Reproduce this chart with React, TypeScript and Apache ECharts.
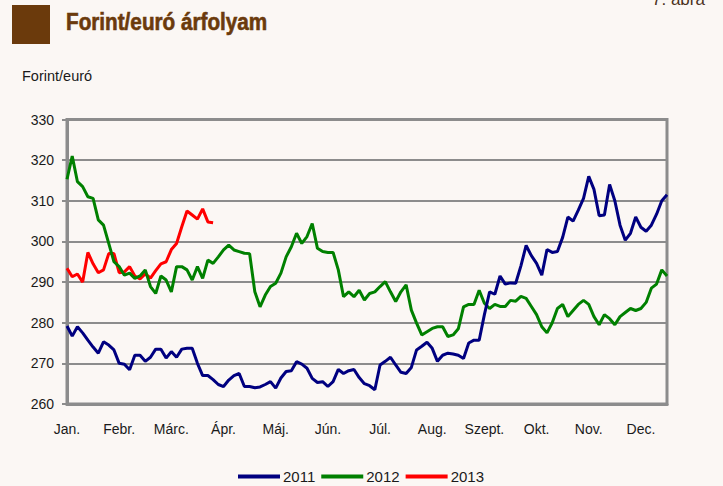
import React, { useEffect, useRef } from "react";
import * as echarts from "echarts";

const months = ["Jan.", "Febr.", "Márc.", "Ápr.", "Máj.", "Jún.", "Júl.", "Aug.", "Szept.", "Okt.", "Nov.", "Dec."];
const seriesNames = ["2011", "2012", "2013"];
const yTicks = { min: 260, max: 330, interval: 10 };

const rate2011 = [
  279.2, 276.7, 279, 277.5, 275.7, 274, 272.5, 275.3, 274.5, 273.3,
  270, 269.8, 268.4, 272, 272, 270.5, 271.5, 273.5, 273.5, 271.3,
  272.9, 271.5, 273.5, 273.7, 273.7, 270, 267, 267, 266, 264.8,
  264.3, 265.9, 267, 267.5, 264.3, 264.3, 264, 264.2, 264.8, 265.5,
  263.9, 266.4, 268, 268.2, 270.4, 269.8, 268.8, 266.3, 265.3, 265.5,
  264.3, 265.5, 268.5, 267.5, 268.2, 268.5, 266.5, 265, 264.5, 263.5,
  269.6, 270.5, 271.5, 269.6, 267.8, 267.5, 269, 273.3, 274.2, 275.2,
  273.7, 270.5, 272, 272.5, 272.3, 272, 271.2, 275, 275.7, 275.7,
  282, 287.6, 287, 291.5, 289.5, 289.8, 289.7, 294, 299, 296.5,
  294.6, 291.7, 298, 297.3, 297.5, 301, 306, 305, 307.7, 310.6,
  316, 312.8, 306.3, 306.5, 314, 310, 304, 300.3, 302, 306,
  303.5, 302.5, 304, 306.7, 310, 311.5,
];

const rate2012 = [
  315.3, 321, 314.7, 313.5, 311, 310.6, 305.3, 304, 299.5, 295,
  293.8, 291.7, 292.2, 290.9, 291.5, 293, 288.9, 287.2, 291.5, 290.5,
  287.6, 293.8, 293.8, 293, 290.5, 293.8, 290.9, 295.4, 294.6, 296.2,
  297.9, 299.1, 297.9, 297.5, 297.1, 297, 287.6, 283.9, 286.8, 288.9,
  289.7, 292.2, 296.2, 298.7, 302, 299.5, 301.2, 304.4, 298.3, 297.5,
  297.3, 297.3, 293, 286.4, 287.6, 286.4, 288, 285.6, 287.2, 287.6,
  288.9, 290.1, 287.6, 285.2, 287.6, 289.3, 283.1, 279.9, 277, 277.8,
  278.6, 279, 279, 276.6, 277, 278.5, 283.9, 284.5, 284.5, 288,
  284.8, 283.5, 284.5, 284, 284, 285.5, 285.3, 286.5, 286, 284,
  282, 279, 277.5, 280, 283.5, 284.5, 281.5, 283, 284.5, 285.5,
  284.5, 281.5, 279.5, 282, 281, 279.5, 281.5, 282.5, 283.5, 283,
  283.5, 285, 288.5, 289.5, 293, 291.5,
];

const rate2013 = [
  293.4, 291.3, 292, 290, 297.3, 294.5, 292.3, 293, 297, 297,
  292.3, 292.5, 293.8, 291.5, 290.8, 292, 291, 292.8, 294.5, 295,
  298, 299.5, 303.6, 307.5, 306.5, 305.5, 308, 304.8, 304.6,
];

// trading-day slots: 10 per month, axis spans Jan. to mid-Dec.
const dayIndex = rate2011.map((_, i) => String(i));

const colors = ["#000080", "#008000", "#ff0000"];
const BG = "#fbf7f4";

export default function App() {
  const ref = useRef<HTMLDivElement>(null);
  useEffect(() => {
    if (!ref.current) return;
    const chart = echarts.init(ref.current, null, { renderer: "svg" });
    const sets = [rate2011, rate2012, rate2013];
    chart.setOption({
      animation: false,
      backgroundColor: BG,
      textStyle: { fontFamily: "Liberation Sans, Arial, sans-serif" },
      graphic: [
        { type: "rect", shape: { x: 12, y: 5, width: 38, height: 39 }, style: { fill: "#6b3a0c" } },
        {
          type: "text", x: 66, y: 11, scaleX: 0.9,
          style: { text: "Forint/euró árfolyam", font: "bold 23px 'Liberation Sans Narrow', Arial", fill: "#6b3a0c", stroke: "#6b3a0c", lineWidth: 0.6 },
        },
        {
          type: "text", x: 652, y: -9,
          style: { text: "7. ábra", font: "17px 'Liberation Sans', Arial", fill: "#4a3020" },
        },
        {
          type: "text", x: 22, y: 68,
          style: { text: "Forint/euró", font: "14.5px 'Liberation Sans', Arial", fill: "#1a1a1a" },
        },
      ],
      grid: {
        left: 67, right: 56, top: 119.5, bottom: 82,
        show: true, borderColor: "#8c8c8c", borderWidth: 3, backgroundColor: "transparent",
      },
      legend: {
        left: 238, top: 469, padding: 0, itemGap: 6,
        itemWidth: 42, itemHeight: 4,
        data: seriesNames.map((n) => ({ name: n, icon: "rect" })),
        textStyle: { fontSize: 15, color: "#1a1a1a", padding: [0, 0, 0, -2] },
      },
      xAxis: {
        type: "category",
        data: dayIndex,
        boundaryGap: false,
        axisLine: { lineStyle: { color: "#8c8c8c", width: 3 } },
        axisTick: { show: false },
        splitLine: { show: false },
        axisLabel: {
          interval: (i: number) => i % 10 === 0,
          formatter: (_: string, i: number) => months[i / 10] ?? "",
          fontSize: 14, color: "#1a1a1a", margin: 18,
        },
      },
      yAxis: {
        type: "value",
        min: yTicks.min, max: yTicks.max, interval: yTicks.interval,
        axisLine: { show: true, lineStyle: { color: "#8c8c8c", width: 3 } },
        axisTick: { show: true, length: 5, lineStyle: { color: "#8c8c8c", width: 2 } },
        splitLine: { lineStyle: { color: "#8c8c8c", width: 2 } },
        axisLabel: { fontSize: 14, color: "#1a1a1a", margin: 13 },
      },
      series: seriesNames.map((n, k) => ({
        name: n,
        type: "line",
        data: sets[k],
        showSymbol: false,
        symbol: "none",
        color: colors[k],
        lineStyle: { width: 3, color: colors[k] },
        z: 3 - k + 2,
      })),
    });
    return () => chart.dispose();
  }, []);
  return (
    <div
      ref={ref}
      style={{ position: "fixed", left: 0, top: 0, width: 723, height: 486, background: BG }}
    />
  );
}
